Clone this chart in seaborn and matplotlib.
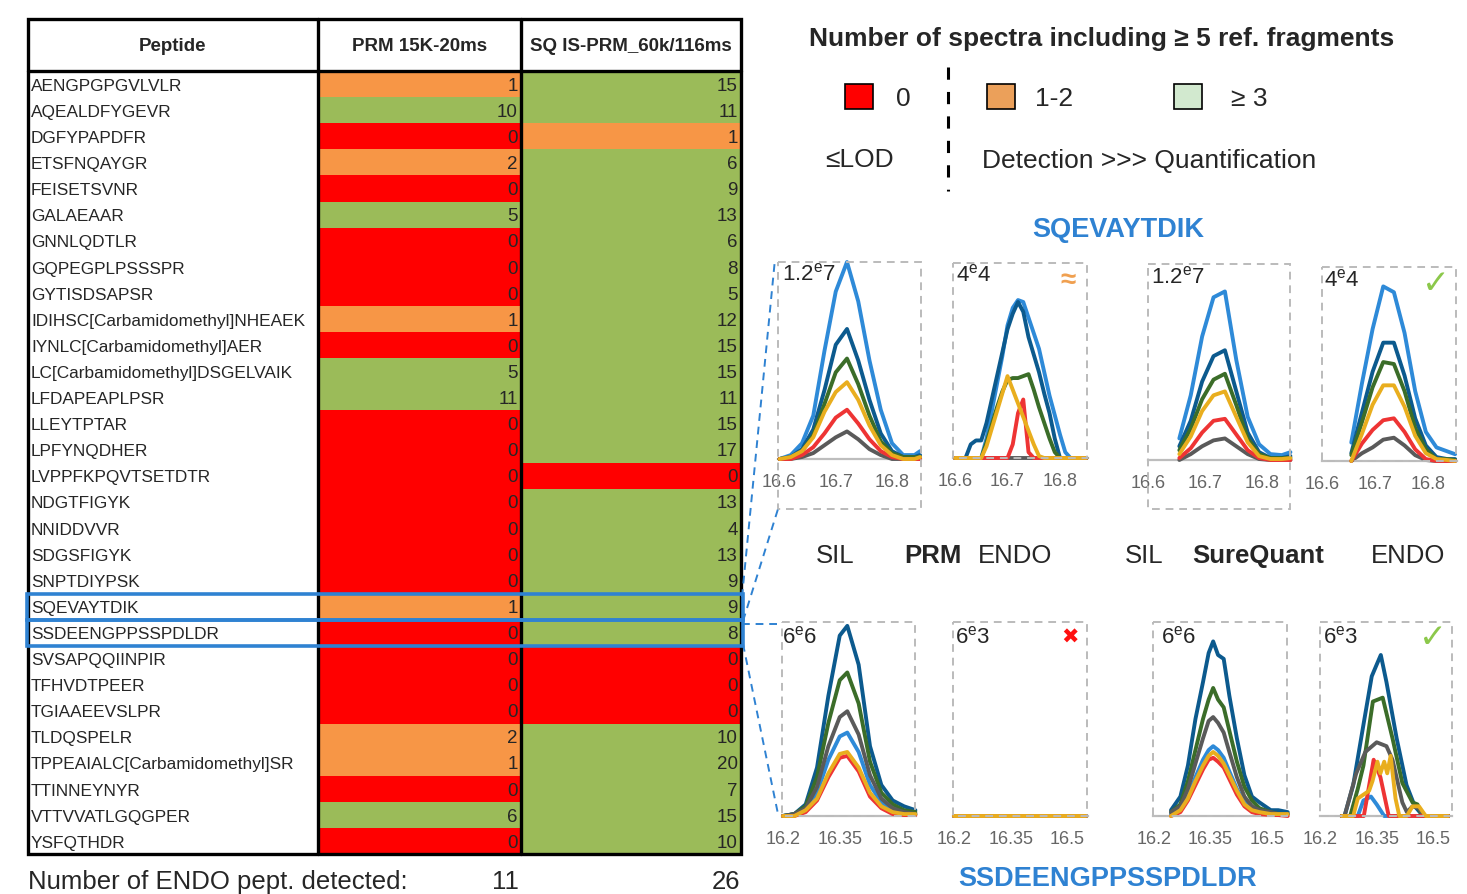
import matplotlib
matplotlib.use("Agg")
import matplotlib.pyplot as plt
import seaborn as sns
import numpy as np
import pandas as pd
from matplotlib.colors import ListedColormap
from matplotlib.patches import Rectangle


##############################   data   ##############################

peptides = ["AENGPGPGVLVLR", "AQEALDFYGEVR", "DGFYPAPDFR", "ETSFNQAYGR", "FEISETSVNR",
            "GALAEAAR", "GNNLQDTLR", "GQPEGPLPSSSPR", "GYTISDSAPSR",
            "IDIHSC[Carbamidomethyl]NHEAEK", "IYNLC[Carbamidomethyl]AER",
            "LC[Carbamidomethyl]DSGELVAIK", "LFDAPEAPLPSR", "LLEYTPTAR", "LPFYNQDHER",
            "LVPPFKPQVTSETDTR", "NDGTFIGYK", "NNIDDVVR", "SDGSFIGYK", "SNPTDIYPSK",
            "SQEVAYTDIK", "SSDEENGPPSSPDLDR", "SVSAPQQIINPIR", "TFHVDTPEER",
            "TGIAAEEVSLPR", "TLDQSPELR", "TPPEAIALC[Carbamidomethyl]SR", "TTINNEYNYR",
            "VTTVVATLGQGPER", "YSFQTHDR"]
prm_counts = [1, 10, 0, 2, 0, 5, 0, 0, 0, 1, 0, 5, 11, 0, 0, 0, 0, 0, 0, 0,
              1, 0, 0, 0, 0, 2, 1, 0, 6, 0]
sq_counts = [15, 11, 1, 6, 9, 13, 6, 8, 5, 12, 15, 15, 11, 15, 17, 0, 13, 4, 13, 9,
             9, 8, 0, 0, 0, 10, 20, 7, 15, 10]
col_headers = ["Peptide", "PRM 15K-20ms", "SQ IS-PRM_60k/116ms"]
detected = ["11", "26"]
highlighted = ["SQEVAYTDIK", "SSDEENGPPSSPDLDR"]

legend_labels = ["0", "1-2", "\u2265 3"]

# chromatograms, intensity in % of the panel scale
# PRM SIL - SQEVAYTDIK (1.2e7)
p1_rt = [16.60, 16.62, 16.64, 16.66, 16.68, 16.70, 16.72, 16.74, 16.76, 16.78, 16.80, 16.82, 16.84, 16.85]
p1 = {"lightblue": [0, 2, 8, 22, 55, 85, 100, 80, 50, 25, 8, 2, 2, 4],
      "darkblue": [0, 1, 5, 15, 35, 58, 66, 50, 30, 13, 4, 1, 1, 2],
      "green": [0, 1, 4, 12, 28, 44, 51, 38, 22, 9, 3, 1, 1, 1],
      "gray": [0, 0, 1, 3, 7, 11, 14, 10, 5, 2, 0, 0, 0, 0],
      "red": [0, 0, 2, 6, 13, 21, 25, 18, 10, 4, 1, 0, 0, 0],
      "gold": [0, 1, 4, 11, 24, 34, 39, 30, 17, 7, 2, 0, 0, 1]}

# PRM ENDO - SQEVAYTDIK (4e4)
p2_rt = [16.60, 16.61, 16.62, 16.63, 16.64, 16.65, 16.66, 16.67, 16.68, 16.69, 16.70, 16.71, 16.72,
         16.73, 16.74, 16.75, 16.76, 16.77, 16.78, 16.79, 16.80, 16.81, 16.82, 16.83, 16.84, 16.85]
p2 = {"lightblue": [0, 0, 0, 0, 0, 0, 10, 24, 38, 52, 68, 77, 81, 80, 72, 64, 56, 44, 32, 22, 12, 3, 0, 0, 0, 0],
      "darkblue": [0, 0, 0, 7, 9, 9, 18, 30, 42, 54, 66, 74, 80, 75, 62, 53, 44, 33, 23, 10, 0, 0, 0, 0, 0, 0],
      "green": [0, 0, 0, 0, 0, 0, 8, 17, 26, 34, 40, 41, 41, 42, 43, 35, 26, 18, 10, 3, 0, 0, 0, 0, 0, 0],
      "gray": [0, 0, 0, 0, 0, 0, 0, 0, 0, 0, 0, 0, 0, 0, 0, 0, 0, 0, 0, 0, 0, 0, 0, 0, 0, 0],
      "red": [0, 0, 0, 0, 0, 0, 0, 0, 0, 0, 0, 7, 23, 30, 3, 0, 0, 0, 0, 0, 0, 0, 0, 0, 0, 0],
      "gold": [0, 0, 0, 0, 0, 0, 6, 15, 24, 33, 42, 35, 28, 21, 14, 7, 1, 0, 0, 0, 0, 0, 0, 0, 0, 0]}

# SureQuant SIL - SQEVAYTDIK (1.2e7)
p3_rt = [16.655, 16.675, 16.695, 16.715, 16.735, 16.755, 16.775, 16.795, 16.815, 16.835, 16.85]
p3 = {"lightblue": [11, 33, 63, 83, 86, 51, 22, 8, 3, 2.5, 4],
      "darkblue": [7, 20, 40, 53, 56, 35, 14, 4, 1, 1, 2],
      "green": [5, 16, 31, 41, 44, 28, 11, 3, 1, 1, 1],
      "gray": [0, 3, 7, 10, 11, 7, 3, 0.5, 0, 0, 0],
      "red": [1, 6, 14, 20, 21, 13, 5, 1, 0, 0, 0],
      "gold": [3, 12, 25, 33, 35, 22, 9, 2, 0.5, 0.5, 1]}

# SureQuant ENDO - SQEVAYTDIK (4e4)
p4_rt = [16.655, 16.675, 16.695, 16.715, 16.735, 16.755, 16.775, 16.795, 16.815, 16.835, 16.85]
p4 = {"lightblue": [9.5, 40, 68, 90, 87, 66, 36, 15, 7, 5, 3.5],
      "darkblue": [4, 25, 46, 61, 61, 44, 22, 8, 2, 1, 1],
      "green": [3, 20, 38, 51, 50, 36, 17, 6, 1, 1, 0.5],
      "gray": [0, 4, 7, 11, 12, 8, 3, 0.5, 0, 0, 0],
      "red": [0, 9, 16, 21, 22, 15, 6, 1, 0, 0, 0],
      "gold": [0, 14, 29, 39, 39, 28, 13, 4, 1, 0.5, 0]}

# PRM SIL - SSDEENGPPSSPDLDR (6e6)
p5_rt = [16.20, 16.23, 16.26, 16.29, 16.32, 16.35, 16.37, 16.40, 16.43, 16.46, 16.49, 16.52, 16.55]
p5 = {"lightblue": [0, 1, 3, 12, 29, 41, 43, 33, 16, 7, 3, 1, 1],
      "darkblue": [0, 1, 6, 25, 62, 93, 98, 78, 36, 16, 8, 5, 3],
      "green": [0, 1, 5, 20, 48, 70, 74, 58, 28, 12, 6, 3, 2],
      "gray": [0, 1, 4, 15, 36, 51, 54, 42, 21, 9, 4, 2, 1],
      "red": [0, 0, 2, 8, 20, 30, 31, 23, 10, 4, 1, 0.5, 0.5],
      "gold": [0, 0, 3, 9, 22, 32, 33, 25, 12, 5, 2, 1, 1]}

# PRM ENDO - SSDEENGPPSSPDLDR (6e3), nothing detected
p6_rt = [16.20, 16.55]
p6 = {"lightblue": [0, 0], "darkblue": [0, 0], "green": [0, 0],
      "gray": [0, 0], "red": [0, 0], "gold": [0, 0]}

# SureQuant SIL - SSDEENGPPSSPDLDR (6e6)
p7_rt = [16.245, 16.27, 16.29, 16.31, 16.33, 16.345, 16.357, 16.37, 16.385, 16.40, 16.42,
         16.44, 16.46, 16.48, 16.51, 16.53, 16.555]
p7 = {"lightblue": [1, 3, 10, 20, 29, 34, 36, 34, 30, 23, 14, 7, 3, 2, 1, 1, 1],
      "darkblue": [3, 10, 26, 50, 69, 84, 90, 83, 81, 62, 40, 21, 10, 7, 3, 3, 2],
      "green": [2, 6, 18, 34, 50, 60, 66, 60, 56, 44, 28, 15, 8, 4, 2, 1, 1],
      "gray": [2, 5, 14, 27, 40, 49, 51, 48, 43, 33, 20, 10, 5, 3, 2, 1, 1],
      "red": [0, 2, 8, 16, 24, 29, 30, 28, 25, 19, 11, 5, 2, 1, 0.5, 0.5, 0],
      "gold": [0, 3, 9, 18, 26, 31, 33, 31, 27, 21, 13, 6, 3, 2, 1, 1, 1]}

# SureQuant ENDO - SSDEENGPPSSPDLDR (6e3), noisy traces with their own time points
p8_lightblue_rt = [16.257, 16.30, 16.315, 16.335, 16.35, 16.37, 16.54]
p8_lightblue = [0, 0, 8, 10, 6, 0, 0]
p8_darkblue_rt = [16.257, 16.265, 16.288, 16.315, 16.337, 16.35, 16.361, 16.376, 16.403, 16.429, 16.451, 16.473, 16.54]
p8_darkblue = [0, 0, 16, 47, 72, 78, 83, 69, 40, 16, 5, 0, 0]
p8_green_rt = [16.257, 16.28, 16.30, 16.315, 16.34, 16.366, 16.392, 16.418, 16.445, 16.458, 16.47, 16.54]
p8_green = [0, 0, 14, 26, 59, 61, 40, 17, 7, 6, 0, 0]
p8_gray_rt = [16.257, 16.265, 16.296, 16.32, 16.35, 16.376, 16.392, 16.418, 16.43, 16.445, 16.462, 16.475, 16.54]
p8_gray = [0, 0, 22, 33, 38, 36, 29, 7, 2, 5, 4, 0, 0]
p8_red_rt = [16.257, 16.316, 16.342, 16.36, 16.382, 16.54]
p8_red = [0, 0, 29, 20, 0, 0]
p8_gold_rt = [16.257, 16.288, 16.30, 16.33, 16.339, 16.352, 16.36, 16.37, 16.378, 16.387, 16.40,
              16.41, 16.43, 16.445, 16.462, 16.48, 16.54]
p8_gold = [0, 0, 9, 13, 18, 28, 22, 28, 22, 31, 9, 0, 0, 5, 5, 0, 0]


##############################   style   ##############################

W, H = 1467, 895
sns.set_style("white")
plt.rcParams['font.family'] = ['Liberation Sans', 'DejaVu Sans']
plt.rcParams['mathtext.fontset'] = 'custom'
plt.rcParams['mathtext.rm'] = 'Liberation Sans'
narrow = ['Liberation Sans', 'DejaVu Sans']

trace_colors = {"lightblue": "#2E8AD8", "darkblue": "#0C5A8E", "green": "#3B6D29",
                "gray": "#5A5A5A", "red": "#EE3434", "gold": "#E9AE1E"}
hl_blue = "#2F82D2"
cell_colors = ["#FF0000", "#F79646", "#9BBB59"]


def px_axes(fig, left, top, right, bottom):
    return fig.add_axes([left / W, 1 - bottom / H, (right - left) / W, (bottom - top) / H])


fig = plt.figure(figsize=(W / 100, H / 100), dpi=100)

##############################   table   ##############################

counts = pd.DataFrame({"PRM": prm_counts, "SQ": sq_counts}, index=peptides)
cats = counts.apply(lambda c: np.select([c == 0, c <= 2], [0, 1], 2))

# one heatmap per column because the two columns are not equally wide
for col, (l, r) in zip(counts.columns, [(318, 521), (521, 741)]):
    hm = px_axes(fig, l, 72, r, 855)
    sns.heatmap(cats[[col]], cmap=ListedColormap(cell_colors), vmin=-0.5, vmax=2.5, cbar=False,
                xticklabels=False, yticklabels=False, ax=hm)
    for i, v in enumerate(counts[col]):
        hm.text(0.985, i + 0.55, str(v), ha="right", va="center", fontsize=13.5, family=narrow)

##############################   chromatograms   ##############################

order = ["lightblue", "darkblue", "green", "gray", "red", "gold"]
p8 = {"lightblue": (p8_lightblue_rt, p8_lightblue), "darkblue": (p8_darkblue_rt, p8_darkblue),
      "green": (p8_green_rt, p8_green), "gray": (p8_gray_rt, p8_gray),
      "red": (p8_red_rt, p8_red), "gold": (p8_gold_rt, p8_gold)}

top_ticks, top_labels = [16.6, 16.7, 16.8], ["16.6", "16.7", "16.8"]
bot_ticks, bot_labels = [16.2, 16.35, 16.5], ["16.2", "16.35", "16.5"]

# (traces, rt, axes px, xlim, ticks, labels, dashed box px, scale text, scale pos)
panels = [
    (p1, p1_rt, (778, 263, 921, 460), (16.5973, 16.8516), top_ticks, top_labels, (778, 263, 921, 510), r"1.2$^{\rm e}$7", (782, 274)),
    (p2, p2_rt, (953, 264, 1088, 459), (16.5962, 16.8533), top_ticks, top_labels, (953, 264, 1087, 459), r"4$^{\rm e}$4", (956, 275)),
    (p3, p3_rt, (1148, 265, 1291, 461), (16.6, 16.851), top_ticks, top_labels, (1148, 265, 1290, 510), r"1.2$^{\rm e}$7", (1151, 277)),
    (p4, p4_rt, (1322, 268, 1457, 462), (16.6, 16.8535), top_ticks, top_labels, (1322, 268, 1456, 462), r"4$^{\rm e}$4", (1324, 280)),
    (p5, p5_rt, (782, 623, 916, 817), (16.1974, 16.5516), bot_ticks, bot_labels, (782, 623, 915, 817), r"6$^{\rm e}$6", (782, 637)),
    (p6, p6_rt, (953, 623, 1088, 817), (16.1974, 16.554), bot_ticks, bot_labels, (953, 623, 1087, 817), r"6$^{\rm e}$3", (955, 637)),
    (p7, p7_rt, (1153, 623, 1288, 817), (16.1973, 16.5557), bot_ticks, bot_labels, (1153, 623, 1287, 817), r"6$^{\rm e}$6", (1161, 637)),
    (p8, None, (1320, 623, 1452, 817), (16.2, 16.5495), bot_ticks, bot_labels, (1320, 623, 1452, 817), r"6$^{\rm e}$3", (1323, 637)),
]

boxes = []
labels = []
for traces, rt, apx, xlim, ticks, tlabels, box, scale, spos in panels:
    ax = px_axes(fig, *apx)
    for name in order:
        if rt is None:
            x, y = traces[name]
        else:
            x, y = rt, traces[name]
        sns.lineplot(x=x, y=y, color=trace_colors[name], linewidth=2.8, sort=False,
                     estimator=None, ax=ax)
    for line in ax.lines:
        line.set_clip_on(False)
        line.set_solid_joinstyle("round")
    ax.set_xlim(*xlim)
    ax.set_ylim(0, 100)
    ax.set_xticks(ticks)
    ax.set_xticklabels(tlabels)
    ax.set_yticks([])
    ax.set(xlabel=None, ylabel=None)
    ax.patch.set_alpha(0)
    for s in ["top", "left", "right"]:
        ax.spines[s].set_visible(False)
    ax.spines["bottom"].set_color("#BDBDBD")
    ax.spines["bottom"].set_linewidth(1.6)
    ax.spines["bottom"].set_zorder(0.5)
    ax.tick_params(axis="x", length=0, pad=10, labelsize=13, labelcolor="#666666")
    boxes.append(box)
    labels.append((scale, spos))

##############################   overlay   ##############################

ov = fig.add_axes([0, 0, 1, 1])
ov.set_xlim(0, W)
ov.set_ylim(H, 0)
ov.axis("off")

# table frame
row_h = (855 - 72) / len(peptides)
ov.add_patch(Rectangle((28, 20), 741 - 28, 855 - 20, fill=False, ec="black", lw=2.4))
ov.plot([28, 741], [72, 72], color="black", lw=2.4)
for xv in [318, 521]:
    ov.plot([xv, xv], [20, 855], color="black", lw=2.4)
for xc, txt in zip([173, 420, 631], col_headers):
    ov.text(xc, 46, txt, ha="center", va="center", fontsize=13.5, fontweight="bold", family=narrow)
for i, pep in enumerate(peptides):
    ov.text(31, 72 + (i + 0.55) * row_h, pep, ha="left", va="center", fontsize=12.4, family=narrow)

# highlighted rows
for pep in highlighted:
    i = peptides.index(pep)
    ov.add_patch(Rectangle((27, 72 + i * row_h + 1), 716, row_h, fill=False, ec=hl_blue, lw=2.6, zorder=5))

ov.text(28, 889, "Number of ENDO pept. detected:", ha="left", va="baseline", fontsize=18.5)
ov.text(519, 889, detected[0], ha="right", va="baseline", fontsize=18.5)
ov.text(740, 889, detected[1], ha="right", va="baseline", fontsize=18.5)

# legend
ov.text(1102, 39, "Number of spectra including \u2265 5 ref. fragments", ha="center", va="center",
        fontsize=19, fontweight="bold")
leg_colors = ["#FF0000", "#EBA05A", "#D2E9CF"]
for x0, c, lab, xt in zip([845, 987, 1174], leg_colors, legend_labels, [896, 1035, 1231]):
    ov.add_patch(Rectangle((x0, 85), 28, 25, fc=c, ec="black", lw=1.2))
    ov.text(xt, 99, lab, ha="left", va="center", fontsize=19)
ov.plot([948, 948], [68, 192], color="black", lw=2.2, dashes=(4, 4))
ov.text(825, 160, "\u2264LOD", ha="left", va="center", fontsize=19)
ov.text(982, 161, "Detection >>> Quantification", ha="left", va="center", fontsize=19)

ov.text(1118, 230, "SQEVAYTDIK", ha="center", va="center", fontsize=19.5, fontweight="bold", color=hl_blue)
ov.text(1108, 879, "SSDEENGPPSSPDLDR", ha="center", va="center", fontsize=19.5, fontweight="bold", color=hl_blue)

# method labels
for xc, txt, fw in [(835, "SIL", "normal"), (933, "PRM", "bold"), (1015, "ENDO", "normal"),
                    (1144, "SIL", "normal"), (1258, "SureQuant", "bold"), (1408, "ENDO", "normal")]:
    ov.text(xc, 556, txt, ha="center", va="center", fontsize=18.5, fontweight=fw)

# dashed panel frames and scale labels
for (l, t, r, b), (scale, (sx, sy)) in zip(boxes, labels):
    ov.add_patch(Rectangle((l, t), r - l, b - t, fill=False, ec="#BBBBBB", lw=1.4, ls=(0, (4, 3))))
    ov.text(sx, sy, scale, ha="left", va="center", fontsize=16)

ov.text(1068, 281, "\u2248", ha="center", va="center", fontsize=20, fontweight="bold", color="#F0A050")
ov.text(1436, 283, "\u2713", ha="center", va="center", fontsize=24, color="#8CC84B", family=["DejaVu Sans"])
ov.text(1433, 638, "\u2713", ha="center", va="center", fontsize=24, color="#8CC84B", family=["DejaVu Sans"])
ov.text(1070, 638, "\u2716", ha="center", va="center", fontsize=15, color="#FF1010", family=["DejaVu Sans"])

# connectors from the table to the chromatograms
for (x0, y0), (x1, y1) in [((742, 598), (775, 260)), ((743, 622), (778, 510)),
                           ((742, 625), (782, 625)), ((743, 645), (778, 815))]:
    ov.plot([x0, x1], [y0, y1], color=hl_blue, lw=1.4, dashes=(4, 3))

fig.savefig("out.png", dpi=100)
